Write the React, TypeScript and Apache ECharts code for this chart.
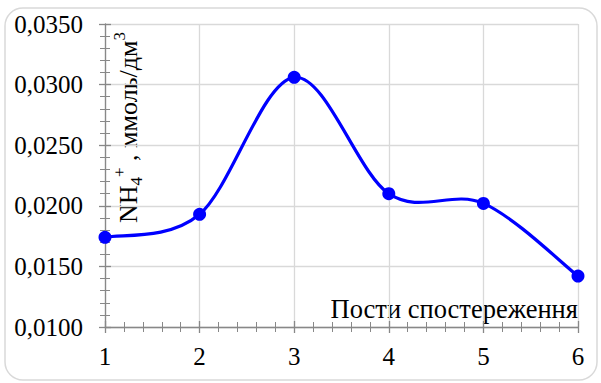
import React, { useEffect, useRef } from "react";
import * as echarts from "echarts";

const posts = [1, 2, 3, 4, 5, 6];
const nh4 = [0.0174, 0.0193, 0.0306, 0.021, 0.0202, 0.0142];
const yMin = 0.01;
const yMax = 0.035;
const yStep = 0.005;
const xAxisTitle = "Пости спостереження";

const FONT = "Liberation Serif";
const BLUE = "#0000ff";

export default function App() {
  const ref = useRef<HTMLDivElement>(null);
  useEffect(() => {
    document.body.style.margin = "0";
    const chart = echarts.init(ref.current!, null, { renderer: "svg" });
    const axisCol = "#888888";
    const gridCol = "#d9d9d9";
    const common = { min: 1, max: 6, interval: 1, type: "value" as const };
    const data = posts.map((p, i) => [p, nh4[i]]);
    chart.setOption({
      animation: false,
      textStyle: { fontFamily: FONT },
      grid: { left: 105, right: 23, top: 24, bottom: 56 },
      xAxis: [
        {
          ...common,
          axisLine: { show: true, lineStyle: { color: axisCol, width: 1.3 } },
          axisTick: { show: true, length: 6, lineStyle: { color: axisCol, width: 1.3 } },
          minorTick: { show: true, splitNumber: 5, length: 5, lineStyle: { color: axisCol } },
          splitLine: { show: true, lineStyle: { color: gridCol, width: 1.3 } },
          axisLabel: { fontFamily: FONT, fontSize: 25, color: "#000", margin: 17 },
        },
        {
          ...common,
          position: "bottom",
          axisLine: { show: false },
          axisTick: { show: true, inside: true, length: 6, lineStyle: { color: axisCol, width: 1.3 } },
          minorTick: { show: true, splitNumber: 5, length: 5, lineStyle: { color: axisCol } },
          splitLine: { show: false },
          axisLabel: { show: false },
        },
      ],
      yAxis: [
        {
          type: "value",
          min: yMin,
          max: yMax,
          interval: yStep,
          axisLine: { show: true, lineStyle: { color: axisCol, width: 1.3 } },
          axisTick: { show: true, length: 6, lineStyle: { color: axisCol, width: 1.3 } },
          minorTick: { show: true, splitNumber: 5, length: 5, lineStyle: { color: axisCol } },
          splitLine: { show: true, lineStyle: { color: gridCol, width: 1.3 } },
          axisLabel: {
            fontFamily: FONT,
            fontSize: 25,
            color: "#000",
            margin: 22,
            formatter: (v: number) => v.toFixed(4).replace(".", ","),
          },
        },
        {
          type: "value",
          min: yMin,
          max: yMax,
          interval: yStep,
          position: "left",
          axisLine: { show: false },
          axisTick: { show: true, inside: true, length: 6, lineStyle: { color: axisCol, width: 1.3 } },
          minorTick: { show: true, splitNumber: 5, length: 5, lineStyle: { color: axisCol } },
          splitLine: { show: false },
          axisLabel: { show: false },
        },
      ],
      series: [
        {
          type: "custom",
          coordinateSystem: "cartesian2d",
          data,
          encode: { x: 0, y: 1 },
          z: 4,
          renderItem: (params: any, api: any) => {
            const i = params.dataIndex;
            const n = data.length;
            if (i >= n - 1) return null;
            const P = (j: number) => {
              const k = Math.max(0, Math.min(n - 1, j));
              return api.coord(data[k]);
            };
            const p0 = P(i - 1);
            const p1 = P(i);
            const p2 = P(i + 1);
            const p3 = P(i + 2);
            const t = 1 / 6;
            return {
              type: "bezierCurve",
              shape: {
                x1: p1[0],
                y1: p1[1],
                x2: p2[0],
                y2: p2[1],
                cpx1: p1[0] + (p2[0] - p0[0]) * t,
                cpy1: p1[1] + (p2[1] - p0[1]) * t,
                cpx2: p2[0] - (p3[0] - p1[0]) * t,
                cpy2: p2[1] - (p3[1] - p1[1]) * t,
              },
              style: { stroke: BLUE, lineWidth: 3.2, fill: "none" },
            };
          },
        },
        {
          type: "scatter",
          data,
          symbol: "circle",
          symbolSize: 13,
          itemStyle: { color: BLUE, opacity: 1 },
          z: 5,
        },
      ],
      graphic: [
        {
          type: "rect",
          shape: { x: 5, y: 8, width: 592, height: 372, r: 18 },
          style: { fill: "none", stroke: "#d9d9d9", lineWidth: 1.5 },
          silent: true,
        },
        {
          type: "text",
          x: 578,
          y: 322,
          style: {
            text: xAxisTitle,
            fontFamily: FONT,
            fontSize: 26.5,
            fill: "#000",
            textAlign: "right",
            textVerticalAlign: "bottom",
          },
        },
        {
          type: "text",
          x: 128,
          y: 223,
          rotation: Math.PI / 2,
          style: {
            text: "{a|NH}{sub|4}{sup|+}{a| , ммоль/дм}{sup|3}",
            textAlign: "left",
            textVerticalAlign: "middle",
            rich: {
              a: { fontFamily: FONT, fontSize: 26, fill: "#000", lineHeight: 34, verticalAlign: "middle" },
              sub: { fontFamily: FONT, fontSize: 17, fill: "#000", lineHeight: 34, verticalAlign: "bottom" },
              sup: { fontFamily: FONT, fontSize: 17, fill: "#000", lineHeight: 34, verticalAlign: "top" },
            },
          },
        },
      ],
    });
    return () => chart.dispose();
  }, []);
  return <div ref={ref} style={{ width: 601, height: 383 }} />;
}
